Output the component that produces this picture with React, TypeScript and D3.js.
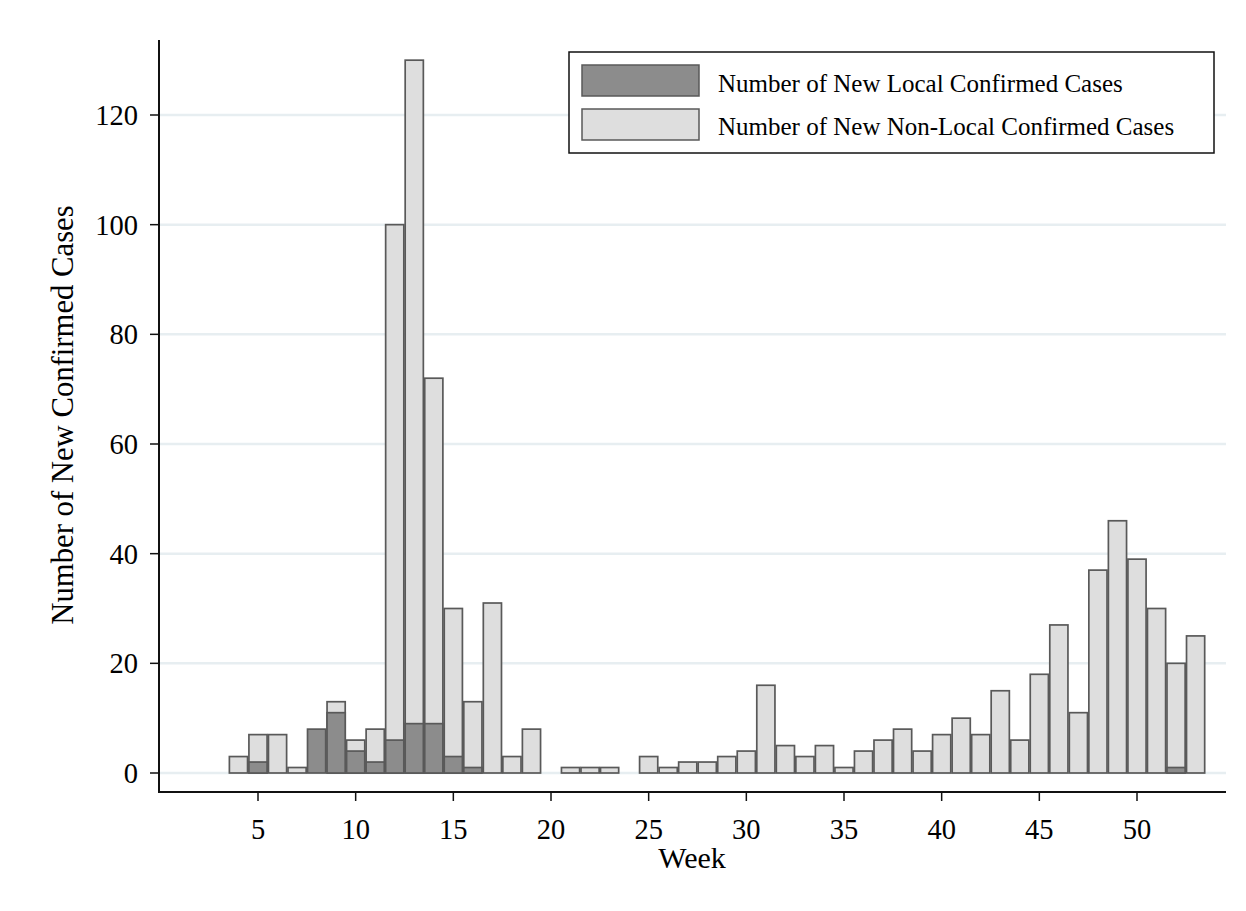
import React from "react";
import * as d3 from "d3";

const weeks = [4,5,6,7,8,9,10,11,12,13,14,15,16,17,18,19,20,21,22,23,24,25,26,27,28,29,30,31,32,33,34,35,36,37,38,39,40,41,42,43,44,45,46,47,48,49,50,51,52,53];
const nonLocalCases = [3,7,7,1,0,13,6,8,100,130,72,30,13,31,3,8,0,1,1,1,0,3,1,2,2,3,4,16,5,3,5,1,4,6,8,4,7,10,7,15,6,18,27,11,37,46,39,30,20,25];
const localCases = [0,2,0,0,8,11,4,2,6,9,9,3,1,0,0,0,0,0,0,0,0,0,0,0,0,0,0,0,0,0,0,0,0,0,0,0,0,0,0,0,0,0,0,0,0,0,0,0,1,0];
const xTicks = [5,10,15,20,25,30,35,40,45,50];
const yTicks = [0,20,40,60,80,100,120];
const seriesNames = ["Number of New Local Confirmed Cases", "Number of New Non-Local Confirmed Cases"];

const FONT = "'Liberation Serif', 'Times New Roman', serif";
const LIGHT = "#dedede";
const DARK = "#8c8c8c";
const EDGE = "#595959";

export default function App() {
  const x = d3.scaleLinear().domain([5, 50]).range([258, 1137]);
  const y = d3.scaleLinear().domain([0, 120]).range([773, 115]);
  const step = x(1) - x(0);
  const bw = step * 0.93;
  const axisLeft = 159;
  const axisRight = 1226;
  const axisBottom = 792;
  const axisTop = 40;

  return (
    <svg width={1246} height={911} style={{ position: "absolute", left: 0, top: 0, background: "#fff" }}>
      <rect x={0} y={0} width={1246} height={911} fill="#fff" />
      {yTicks.map((t) => (
        <line key={"g" + t} x1={axisLeft + 1} x2={axisRight} y1={y(t)} y2={y(t)} stroke="#e7eef1" strokeWidth={2.5} />
      ))}
      {weeks.map((w, i) =>
        nonLocalCases[i] > 0 ? (
          <rect key={"nl" + w} x={x(w) - bw / 2} y={y(nonLocalCases[i])} width={bw} height={y(0) - y(nonLocalCases[i])}
            fill={LIGHT} stroke={EDGE} strokeWidth={1.7} />
        ) : null
      )}
      {weeks.map((w, i) =>
        localCases[i] > 0 ? (
          <rect key={"l" + w} x={x(w) - bw / 2} y={y(localCases[i])} width={bw} height={y(0) - y(localCases[i])}
            fill={DARK} stroke={EDGE} strokeWidth={1.7} />
        ) : null
      )}
      {/* axes */}
      <line x1={axisLeft} x2={axisLeft} y1={axisTop} y2={axisBottom + 1} stroke="#111" strokeWidth={2} />
      <line x1={axisLeft} x2={axisRight} y1={axisBottom} y2={axisBottom} stroke="#111" strokeWidth={2} />
      {yTicks.map((t) => (
        <g key={"yt" + t}>
          <line x1={axisLeft - 9} x2={axisLeft} y1={y(t)} y2={y(t)} stroke="#111" strokeWidth={1.5} />
          <text x={138} y={y(t)} dy="0.35em" textAnchor="end" fontFamily={FONT} fontSize={28.5} fill="#000">{t}</text>
        </g>
      ))}
      {xTicks.map((t) => (
        <g key={"xt" + t}>
          <line x1={x(t)} x2={x(t)} y1={axisBottom} y2={axisBottom + 9} stroke="#111" strokeWidth={1.5} />
          <text x={x(t)} y={839} textAnchor="middle" fontFamily={FONT} fontSize={28.5} fill="#000">{t}</text>
        </g>
      ))}
      <text x={692} y={868} textAnchor="middle" fontFamily={FONT} fontSize={30} fill="#000">Week</text>
      <text transform="translate(73,415) rotate(-90)" textAnchor="middle" fontFamily={FONT} fontSize={30.7} fill="#000">
        Number of New Confirmed Cases
      </text>
      {/* legend */}
      <rect x={569} y={52} width={645} height={101} fill="#fff" stroke="#111" strokeWidth={1.5} />
      <rect x={582} y={65} width={117} height={31} fill={DARK} stroke={EDGE} strokeWidth={1.5} />
      <rect x={582} y={109} width={117} height={31} fill={LIGHT} stroke={EDGE} strokeWidth={1.5} />
      <text x={718} y={92} fontFamily={FONT} fontSize={25} fill="#000">{seriesNames[0]}</text>
      <text x={718} y={135} fontFamily={FONT} fontSize={25} fill="#000">{seriesNames[1]}</text>
    </svg>
  );
}
